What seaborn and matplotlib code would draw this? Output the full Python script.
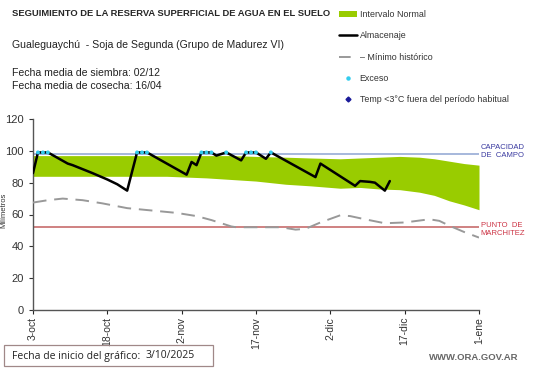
import numpy as np
import pandas as pd
import seaborn as sns
import matplotlib
matplotlib.use("Agg")
from matplotlib import pyplot as plt
from matplotlib.patches import Patch, Rectangle
from matplotlib.lines import Line2D

# datos (dias desde 3-oct)
almac_dias = [0, 1, 2, 3, 7, 8, 12, 15, 17, 19, 21, 22, 23, 31, 32, 33, 34, 35, 36, 37, 39,
              42, 43, 44, 45, 47, 48, 57, 58, 65, 66, 68, 69, 71, 72]
almac_mm = [86, 99, 99, 99, 92, 91, 86, 82, 79, 75, 99, 99, 99, 85, 93, 91, 99, 99, 99, 97, 99,
            94, 99, 99, 99, 95, 99, 83.5, 92, 78, 81, 80.5, 80, 75, 81]

exceso_dias = [1, 2, 3, 21, 22, 23, 34, 35, 36, 39, 43, 44, 45, 48]
exceso_mm = [99, 99, 99, 99, 99, 99, 99, 99, 99, 99, 99, 99, 99, 99]

banda_dias = [0, 10, 20, 27, 35, 40, 45, 51, 56, 62, 66, 70, 74, 78, 81, 84, 87, 90]
banda_sup = [97, 97, 97, 97, 97, 97, 96.5, 96, 95.5, 95, 95.5, 96, 96.5, 96, 95, 93.5, 92, 91]
banda_inf = [84, 84, 84, 84, 83, 82, 81, 79, 78, 76.5, 77, 76, 75.6, 74, 72, 68.6, 66, 63]

min_dias = [0, 3, 6, 10, 14, 19, 24, 29, 33, 36, 40, 41, 50, 53, 55, 58, 62, 64, 67, 71, 75,
            80, 82, 84, 87, 90]
min_mm = [67.5, 69, 70, 69, 67, 64, 62.5, 61, 59, 56.5, 52.5, 52, 52, 50.5, 51, 55, 59.5, 59,
          57, 54.5, 55, 57, 56, 53, 49, 45.5]

capacidad = 98
marchitez = 52

tick_dias = [0, 15, 30, 45, 60, 75, 90]
tick_labels = ["3-oct", "18-oct", "2-nov", "17-nov", "2-dic", "17-dic", "1-ene"]

df_alm = pd.DataFrame({"dia": almac_dias, "mm": almac_mm})
df_min = pd.DataFrame({"dia": min_dias, "mm": min_mm})
df_exc = pd.DataFrame({"dia": exceso_dias, "mm": exceso_mm})

sns.set_style("white")
plt.rcParams['font.family'] = ['Liberation Sans', 'DejaVu Sans']

verde = "#99cc00"
fig = plt.figure(figsize=(5.41, 3.68), dpi=100)
ax = fig.add_axes([33 / 541, 1 - 310 / 368, 446 / 541, 191 / 368])

ax.fill_between(banda_dias, banda_inf, banda_sup, color=verde, lw=0, zorder=1)
ax.axhline(capacidad, color="#9fb2d9", lw=1.3, zorder=2)
ax.axhline(marchitez, color="#cc7777", lw=1.3, zorder=2)
sns.lineplot(data=df_min, x="dia", y="mm", ax=ax, color="#999999", lw=1.4,
             dashes=False, zorder=3).lines[-1].set_dashes([7, 4])
sns.lineplot(data=df_alm, x="dia", y="mm", ax=ax, color="black", lw=1.8, zorder=4)
sns.scatterplot(data=df_exc, x="dia", y="mm", ax=ax, color="#33ccee", s=8,
                edgecolor="none", zorder=5)

ax.set_xlim(0, 90)
ax.set_ylim(0, 120)
ax.set_yticks(range(0, 121, 20))
ax.set_xticks(tick_dias)
ax.set_xticklabels(tick_labels, rotation=90, fontsize=7.5, color="#333333")
ax.tick_params(axis="y", labelsize=8, colors="#333333", length=3, width=0.8, left=True)
ax.tick_params(axis="x", length=3, width=0.8, bottom=True, pad=2)
for s in ["top", "right"]:
    ax.spines[s].set_visible(False)
for s in ["left", "bottom"]:
    ax.spines[s].set_color("#555555")
    ax.spines[s].set_linewidth(1.0)
ax.set_xlabel("")
ax.set_ylabel("Milímetros", fontsize=5.5, color="#333333")
ax.yaxis.set_label_coords(-0.058, 0.52)

ax.text(1.004, capacidad + 1.5, "CAPACIDAD\nDE  CAMPO", transform=ax.get_yaxis_transform(),
        fontsize=5.5, color="#3a3aa0", va="center", ha="left", linespacing=1.1)
ax.text(1.004, marchitez - 1.5, "PUNTO  DE\nMARCHITEZ", transform=ax.get_yaxis_transform(),
        fontsize=5.5, color="#cc3344", va="center", ha="left", linespacing=1.1)

# textos de cabecera
fig.text(12 / 541, 1 - 14 / 368, "SEGUIMIENTO DE LA RESERVA SUPERFICIAL DE AGUA EN EL SUELO",
         fontsize=6.75, fontweight="bold", va="center", ha="left")
fig.text(12 / 541, 1 - 45 / 368, "Gualeguaychú  - Soja de Segunda (Grupo de Madurez VI)",
         fontsize=7.6, va="center", ha="left", color="#222222")
fig.text(12 / 541, 1 - 73 / 368, "Fecha media de siembra: 02/12",
         fontsize=7.6, va="center", ha="left", color="#222222")
fig.text(12 / 541, 1 - 86 / 368, "Fecha media de cosecha: 16/04",
         fontsize=7.6, va="center", ha="left", color="#222222")

# leyenda
handles = [
    Patch(facecolor=verde, edgecolor="none"),
    Line2D([], [], color="black", lw=1.8),
    Line2D([], [], color="#999999", lw=1.4, ls=(0, (6, 4))),
    Line2D([], [], color="#33ccee", marker="o", ms=2.2, lw=0),
    Line2D([], [], color="#1a1a99", marker="D", ms=2.5, lw=0),
]
labels = ["Intervalo Normal", "Almacenaje", "– Mínimo histórico", "Exceso",
          "Temp <3°C fuera del período habitual"]
leg = fig.legend(handles, labels, loc="upper left", bbox_to_anchor=(333 / 541, 1 - 4 / 368),
                 frameon=False, fontsize=6.4, labelspacing=1.38, handlelength=2.0,
                 handleheight=0.7, handletextpad=0.3, borderpad=0.2)
for t in leg.get_texts():
    t.set_color("#333333")

# pie
fig.patches.append(Rectangle((4 / 541, 1 - 366 / 368), 209 / 541, 21 / 368,
                             transform=fig.transFigure, fill=False,
                             edgecolor="#a08888", lw=0.9))
fig.text(12 / 541, 1 - 356 / 368, "Fecha de inicio del gráfico:", fontsize=7.5,
         family=["Open Sans", "DejaVu Sans"], va="center", ha="left", color="#222222")
fig.text(145 / 541, 1 - 356 / 368, "3/10/2025", fontsize=7.5,
         family=["Open Sans", "DejaVu Sans"], va="center", ha="left", color="#222222")
fig.text(518 / 541, 1 - 358 / 368, "WWW.ORA.GOV.AR", fontsize=6.8, fontweight="bold",
         color="#666666", va="center", ha="right")

fig.savefig("out.png", dpi=100)
